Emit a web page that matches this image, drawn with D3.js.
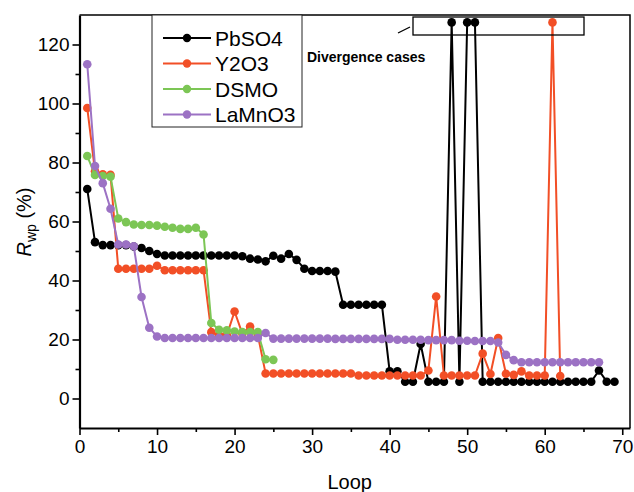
<!DOCTYPE html>
<html>
<head>
<meta charset="utf-8">
<script src="https://cdn.jsdelivr.net/npm/d3@7"></script>
<style>
  body { margin: 0; background: #fff; }
  svg { display: block; font-family: "Liberation Sans", Arial, sans-serif; }
</style>
</head>
<body>
<svg id="chart" width="634" height="492"></svg>
<script>
// Rwp per loop, each series starts at loop 1
const pbso4 = [71, 53, 52, 52, 52, 52, 51.5, 51, 50, 49,
  48.5, 48.5, 48.5, 48.5, 48.5, 48.5, 48.5, 48.5, 48.5, 48.5,
  48.2, 47.4, 47.1, 46.5, 48.4, 47.4, 49, 47, 44, 43.2,
  43.2, 43.2, 43, 31.8, 31.8, 31.8, 31.8, 31.8, 31.8, 9.2,
  9.2, 5.7, 5.7, 18.5, 5.7, 5.7, 5.7, 127.5, 5.7, 127.5,
  127.5, 5.7, 5.7, 5.7, 5.7, 5.7, 5.7, 5.7, 5.7, 5.7,
  5.7, 5.7, 5.7, 5.7, 5.7, 5.7, 9.5, 5.7, 5.7];
const y2o3 = [98.5, 77, 76, 75.8, 44, 44, 44, 44, 44, 45,
  43.5, 43.5, 43.5, 43.5, 43.5, 43.5, 22.5, 21.5, 21.5, 29.5,
  22, 24.4, 21.5, 8.5, 8.5, 8.5, 8.5, 8.5, 8.5, 8.5,
  8.5, 8.5, 8.5, 8.5, 8.5, 7.8, 7.8, 7.8, 7.8, 7.8,
  7.8, 7.8, 7.8, 7.8, 9.5, 34.6, 7.8, 7.8, 7.8, 7.8,
  7.8, 15.2, 8.3, 20.5, 8.4, 8.0, 9.2, 7.8, 7.8, 7.8,
  127.5, 7.6];
const dsmo = [82.2, 75.8, 75.4, 75.2, 61, 59.8, 59, 58.8, 58.8, 58.6,
  58.2, 57.9, 57.5, 57.5, 57.9, 55.6, 25.6, 23.3, 23.1, 22.7,
  22.5, 22.5, 22.5, 13.3, 13.1];
const lamno3 = [113.3, 78.8, 73, 64.3, 52.2, 52.2, 51.6, 34.4, 24, 21,
  20.5, 20.5, 20.5, 20.5, 20.5, 20.5, 20.5, 20.5, 20.5, 20.5,
  20.5, 20.5, 20.5, 22.2, 20.3, 20.3, 20.3, 20.3, 20.3, 20.3,
  20.3, 20.3, 20.2, 20.2, 20.2, 20.2, 20.2, 20.2, 20.2, 20.2,
  19.9, 19.9, 19.9, 19.9, 19.8, 19.8, 19.8, 19.8, 19.6, 19.6,
  19.5, 19.5, 19.5, 19, 14.8, 13, 12.3, 12.3, 12.3, 12.3,
  12.3, 12.3, 12.3, 12.3, 12.3, 12.3, 12.3];

const seriesNames = ["PbSO4", "Y2O3", "DSMO", "LaMnO3"];
const seriesColors = ["#000000", "#f24f26", "#7cc655", "#9c72c4"];
const seriesValues = [pbso4, y2o3, dsmo, lamno3];

const xMajor = [0, 10, 20, 30, 40, 50, 60, 70];
const xMinor = [5, 15, 25, 35, 45, 55, 65];
const yMajor = [0, 20, 40, 60, 80, 100, 120];
const yMinor = [10, 30, 50, 70, 90, 110];

const svg = d3.select("#chart");
const pLeft = 79.5, pRight = 630, pTop = 15, pBottom = 428;

const x = d3.scaleLinear().domain([0, 71]).range([pLeft, pRight]);
const y = d3.scaleLinear().domain([-10, 130]).range([pBottom, pTop]);

// frame
svg.append("path")
  .attr("d", `M${pLeft},${pTop}H${pRight}V${pBottom}`)
  .attr("fill", "none").attr("stroke", "#000").attr("stroke-width", 1.5);

function styleAxis(g) {
  g.select(".domain").attr("stroke-width", 2.2);
  g.selectAll(".tick line").attr("stroke-width", 1.6);
  g.selectAll("text").attr("font-size", 19).attr("fill", "#000")
    .attr("font-family", "'Liberation Sans', Arial, sans-serif");
}

svg.append("g").attr("transform", `translate(0,${pBottom})`)
  .call(d3.axisBottom(x).tickValues(xMinor).tickSize(4).tickFormat(""))
  .call(g => g.select(".domain").remove())
  .call(styleAxis);
svg.append("g").attr("transform", `translate(0,${pBottom})`)
  .call(d3.axisBottom(x).tickValues(xMajor).tickSize(7).tickPadding(5).tickSizeOuter(0))
  .call(styleAxis);

svg.append("g").attr("transform", `translate(${pLeft},0)`)
  .call(d3.axisLeft(y).tickValues(yMinor).tickSize(4).tickFormat(""))
  .call(g => g.select(".domain").remove())
  .call(styleAxis);
svg.append("g").attr("transform", `translate(${pLeft},0)`)
  .call(d3.axisLeft(y).tickValues(yMajor).tickSize(7).tickPadding(3).tickSizeOuter(0))
  .call(styleAxis);

// axis titles
svg.append("text").attr("x", (pLeft + pRight) / 2 - 5).attr("y", 489)
  .attr("text-anchor", "middle").attr("font-size", 20).text("Loop");

const yl = svg.append("text")
  .attr("transform", "translate(31,222) rotate(-90)")
  .attr("text-anchor", "middle").attr("font-size", 20);
yl.append("tspan").attr("font-style", "italic").text("R");
yl.append("tspan").attr("font-size", 14).attr("dy", 5).text("wp");
yl.append("tspan").attr("dy", -5).text(" (%)");

// series
const line = d3.line().x(d => x(d[0])).y(d => y(d[1]));
seriesValues.forEach((vals, i) => {
  const pts = vals.map((v, k) => [k + 1, v]);
  const g = svg.append("g");
  g.append("path").datum(pts).attr("d", line)
    .attr("fill", "none").attr("stroke", seriesColors[i])
    .attr("stroke-width", 2).attr("stroke-linejoin", "round");
  g.selectAll("circle").data(pts).join("circle")
    .attr("cx", d => x(d[0])).attr("cy", d => y(d[1]))
    .attr("r", 4.3).attr("fill", seriesColors[i]);
});

// legend
const lg = svg.append("g");
lg.append("rect").attr("x", 152).attr("y", 15).attr("width", 150).attr("height", 112)
  .attr("fill", "#fff").attr("stroke", "#222").attr("stroke-width", 1);
seriesNames.forEach((name, i) => {
  const yy = 38 + i * 25.5;
  lg.append("line").attr("x1", 163).attr("x2", 211).attr("y1", yy).attr("y2", yy)
    .attr("stroke", seriesColors[i]).attr("stroke-width", 2);
  lg.append("circle").attr("cx", 187).attr("cy", yy).attr("r", 4.2).attr("fill", seriesColors[i]);
  lg.append("text").attr("x", 215).attr("y", yy + 7.5).attr("font-size", 21).text(name);
});

// divergence annotation
svg.append("rect").attr("x", 413).attr("y", 17).attr("width", 171).attr("height", 18)
  .attr("fill", "none").attr("stroke", "#000").attr("stroke-width", 1.3);
svg.append("line").attr("x1", 398).attr("y1", 33).attr("x2", 410).attr("y2", 27)
  .attr("stroke", "#000").attr("stroke-width", 1.3);
svg.append("text").attr("x", 307).attr("y", 62).attr("font-size", 14)
  .attr("font-weight", "bold").text("Divergence cases");
</script>
</body>
</html>
